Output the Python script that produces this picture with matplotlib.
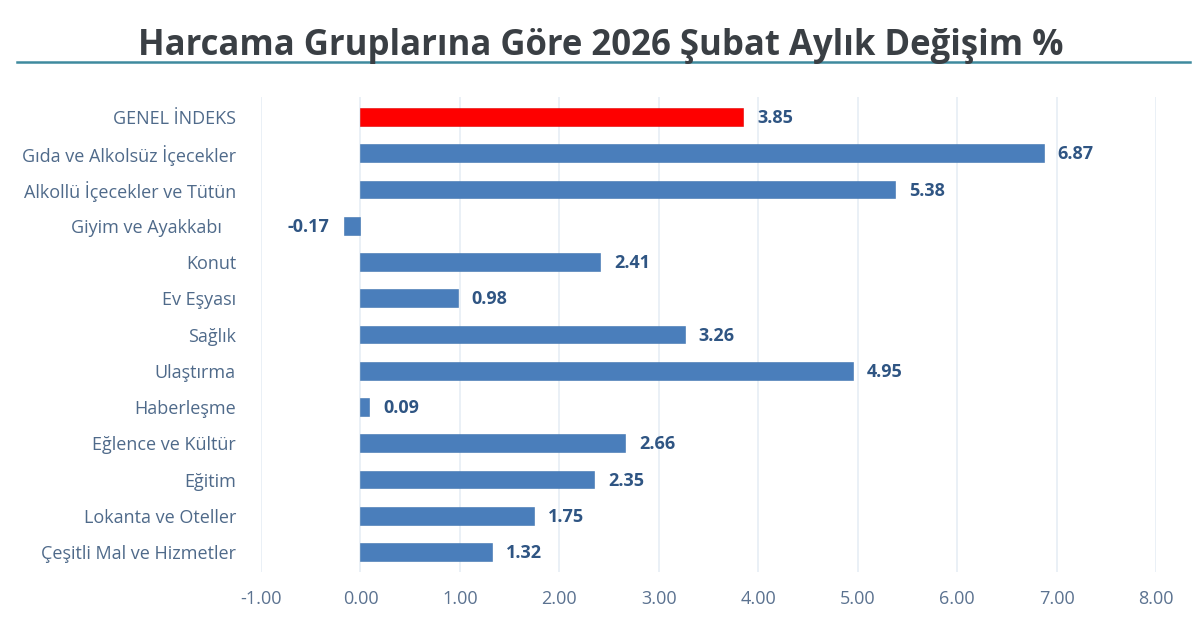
import matplotlib
matplotlib.use("Agg")
import matplotlib.pyplot as plt

categories = [
    "GENEL İNDEKS", "Gıda ve Alkolsüz İçecekler", "Alkollü İçecekler ve Tütün",
    "Giyim ve Ayakkabı   ", "Konut", "Ev Eşyası", "Sağlık", "Ulaştırma", "Haberleşme",
    "Eğlence ve Kültür", "Eğitim", "Lokanta ve Oteller", "Çeşitli Mal ve Hizmetler",
]
values = [3.85, 6.87, 5.38, -0.17, 2.41, 0.98, 3.26, 4.95, 0.09, 2.66, 2.35, 1.75, 1.32]
x_ticks = [-1, 0, 1, 2, 3, 4, 5, 6, 7, 8]

plt.rcParams["font.family"] = ["Open Sans", "DejaVu Sans"]

fig = plt.figure(figsize=(12, 6.4), dpi=100)
ax = fig.add_axes([261 / 1200, 1 - 572 / 640, (1156 - 261) / 1200, (572 - 97) / 640])

colors = ["#fe0000"] + ["#4a7ebb"] * (len(values) - 1)
y = list(range(len(values)))
ax.barh(y, values, height=0.49, color=colors, edgecolor="#3f74b0", linewidth=0.4, zorder=3)
ax.patches[0].set_edgecolor("#e00000")

for i, v in enumerate(values):
    xpos = v + 0.14 if v >= 0 else v - 0.14
    ax.text(xpos, i + 0.03, f"{v:.2f}", ha="left" if v >= 0 else "right", va="center",
            fontsize=13, fontweight="bold", color="#2f5583")

ax.set_xlim(-1, 8)
ax.set_ylim(len(values) - 0.45, -0.55)
ax.set_xticks(x_ticks)
ax.set_xticklabels([f"{t:.2f}" for t in x_ticks], fontsize=13, color="#5b7290")
ax.set_yticks(y)
ax.set_yticklabels(categories, fontsize=13, color="#4f6a8a")
ax.tick_params(length=0)
ax.tick_params(axis="x", pad=13)
ax.tick_params(axis="y", pad=18)
ax.grid(axis="x", color="#e6edf5", linewidth=1.2, zorder=0)
for spine in ax.spines.values():
    spine.set_visible(False)

fig.text(601 / 1200, 1 - 46 / 640, "Harcama Gruplarına Göre 2026 Şubat Aylık Değişim %", ha="center", va="center",
         fontsize=25, fontweight="bold", color="#3a3f44")
fig.add_artist(plt.Line2D([17 / 1200, 1190 / 1200], [1 - 62 / 640, 1 - 62 / 640], color="#3f8a9e", linewidth=1.8))

fig.savefig("out.png", dpi=100)
plt.close(fig)
